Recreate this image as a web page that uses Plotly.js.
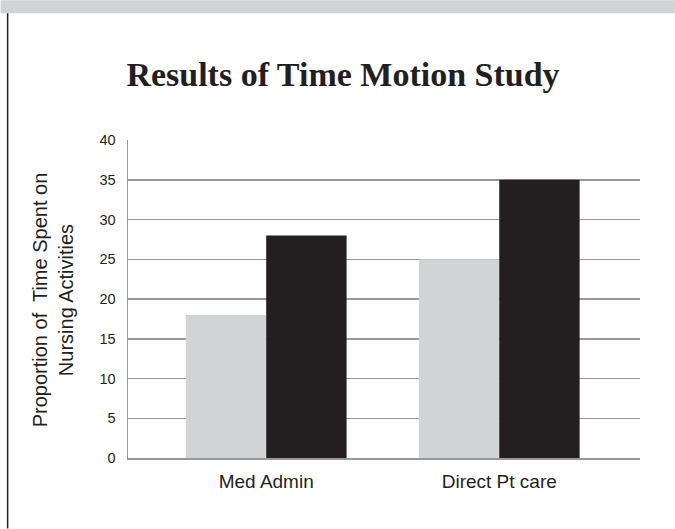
<!DOCTYPE html>
<html>
<head>
<meta charset="utf-8">
<script src="https://cdn.plot.ly/plotly-3.0.1.min.js"></script>
<style>
html,body{margin:0;padding:0;background:#fff;}
#chart{width:675px;height:529px;}
</style>
</head>
<body>
<div id="chart"></div>
<script>
var categories = ["Med Admin", "Direct Pt care"];
var seriesA = [18, 25];
var seriesB = [28, 35];
var yTicks = [0, 5, 10, 15, 20, 25, 30, 35, 40];

var W = 675, H = 529;
var L = 127.5, R = 640, T = 140, B = 458.5;
function px(x){ return (x - L) / (R - L); }
function py(y){ return (B - y) / (B - T); }

var traces = [
  {type: 'bar', x: categories, y: seriesA, marker: {color: '#d1d3d4', line: {width: 0}}, hoverinfo: 'skip'},
  {type: 'bar', x: categories, y: seriesB, marker: {color: '#231f20', line: {width: 0}}, hoverinfo: 'skip'}
];

var layout = {
  width: W, height: H,
  margin: {l: L, r: W - R, t: T, b: H - B, pad: 0},
  paper_bgcolor: '#ffffff', plot_bgcolor: '#ffffff',
  showlegend: false,
  barmode: 'group', bargap: 0.31, bargroupgap: 0,
  title: {
    text: '<b>Results of Time Motion Study</b>',
    font: {family: 'Liberation Serif, serif', size: 34, color: '#231f20'},
    x: 343 / W, xanchor: 'center', xref: 'container',
    y: 1 - 74 / H, yanchor: 'middle', yref: 'container'
  },
  xaxis: {
    type: 'category',
    range: [-0.593, 1.604],
    showgrid: false, zeroline: false,
    showline: true, linecolor: '#999999', linewidth: 1.5,
    ticks: 'outside', ticklen: 6, tickcolor: 'rgba(0,0,0,0)',
    tickfont: {family: 'Liberation Sans, Arial, sans-serif', size: 19, color: '#231f20'},
    fixedrange: true
  },
  yaxis: {
    range: [0, 40],
    tickvals: yTicks,
    ticktext: yTicks.map(String),
    showgrid: true, gridcolor: '#999999', gridwidth: 1.5,
    zeroline: false,
    showline: true, linecolor: '#999999', linewidth: 1.5,
    ticks: 'outside', ticklen: 8, tickcolor: 'rgba(0,0,0,0)',
    tickfont: {family: 'Liberation Sans, Arial, sans-serif', size: 14.5, color: '#231f20'},
    fixedrange: true
  },
  annotations: [{
    text: 'Proportion of  Time Spent on<br>Nursing Activities',
    xref: 'paper', yref: 'paper',
    x: px(52), y: py(300),
    xanchor: 'center', yanchor: 'middle',
    textangle: -90, showarrow: false,
    font: {family: 'Liberation Sans, Arial, sans-serif', size: 20, color: '#231f20'}
  }],
  shapes: [
    {type: 'rect', xref: 'paper', yref: 'paper', x0: px(0), x1: px(W), y0: py(13), y1: py(0),
     fillcolor: '#d1d3d4', line: {width: 0}, layer: 'below'},
    {type: 'line', xref: 'paper', yref: 'paper', x0: px(7), x1: px(7), y0: py(13), y1: py(H),
     line: {color: '#231f20', width: 1.5}, layer: 'below'}
  ]
};

Plotly.newPlot('chart', traces, layout, {displayModeBar: false, staticPlot: true});
</script>
</body>
</html>
